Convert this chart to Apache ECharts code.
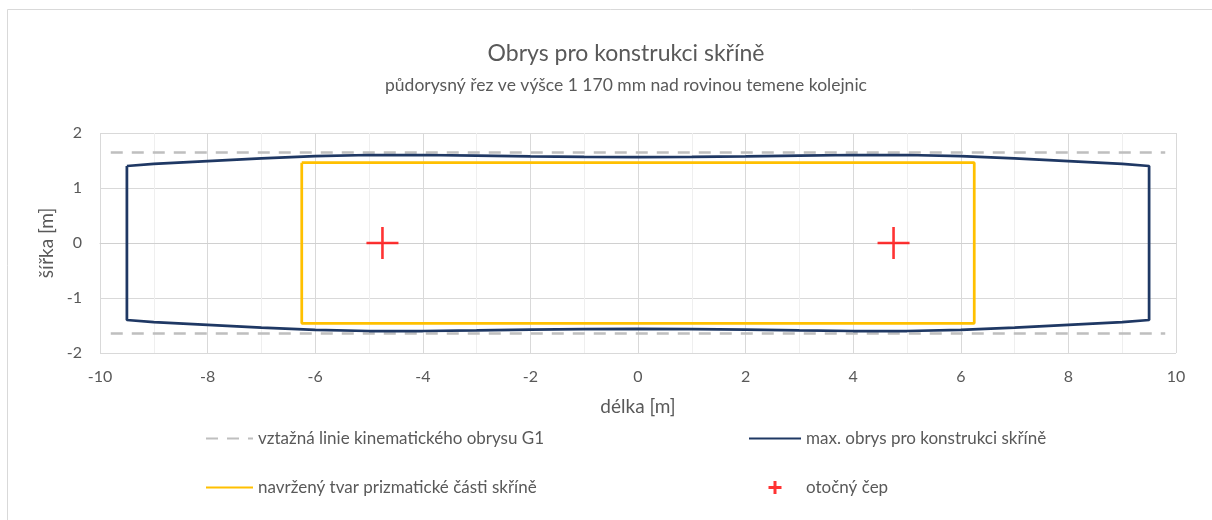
<!DOCTYPE html>
<html>
<head>
<meta charset="utf-8">
<script src="https://cdn.jsdelivr.net/npm/echarts@6/dist/echarts.min.js"></script>
<style>html,body{margin:0;padding:0;background:#fff}#c{width:1212px;height:520px}</style>
</head>
<body>
<div id="c"></div>
<script>
// ---- data ----
const titleText = 'Obrys pro konstrukci skříně';
const subtitleText = 'půdorysný řez ve výšce 1 170 mm nad rovinou temene kolejnic';
const xAxisName = 'délka [m]';
const yAxisName = 'šířka [m]';
const seriesNames = [
  'vztažná linie kinematického obrysu G1',
  'max. obrys pro konstrukci skříně',
  'navržený tvar prizmatické části skříně',
  'otočný čep'
];
// G1 reference line (half-width) and its length
const g1X = [-9.8, 9.8];
const g1HalfWidth = [1.645, 1.645];
// max outline: top edge (symmetric bottom edge)
const outlineX =   [-9.5, -9,   -8,   -7,   -6,   -5,   -4,   -3,   -2,    -1,    0,    1,     2,     3,    4,    5,    6,    7,    8,    9,    9.5];
const outlineTop = [1.40, 1.44, 1.49, 1.54, 1.58, 1.60, 1.60, 1.59, 1.575, 1.565, 1.56, 1.565, 1.575, 1.59, 1.60, 1.60, 1.58, 1.54, 1.49, 1.44, 1.40];
// designed prismatic part (rectangle)
const rectX = [-6.25, 6.25];
const rectHalfWidth = [1.46, 1.46];
// bogie pivots
const pivotX = [-4.75, 4.75];
const pivotY = [0, 0];

// ---- build series data ----
const g1Top = g1X.map((x, i) => [x, g1HalfWidth[i]]);
const g1Bottom = g1X.map((x, i) => [x, -g1HalfWidth[i]]);
const outline = [];
outlineX.forEach((x, i) => outline.push([x, outlineTop[i]]));
for (let i = outlineX.length - 1; i >= 0; i--) outline.push([outlineX[i], -outlineTop[i]]);
outline.push(outline[0]);
const rect = [
  [rectX[0], rectHalfWidth[0]], [rectX[1], rectHalfWidth[1]],
  [rectX[1], -rectHalfWidth[1]], [rectX[0], -rectHalfWidth[0]],
  [rectX[0], rectHalfWidth[0]]
];
const pivots = pivotX.map((x, i) => [x, pivotY[i]]);

const FONT = 'Lato';
const TXT = '#595959';
const plusPath = 'path://M0,14.7L32,14.7L32,17.3L0,17.3ZM14.7,0L17.3,0L17.3,32L14.7,32Z';
// legend plus centred in a 52x13 box (degenerate zero-area bits at x=0 and x=52 keep the box)
const plusLegend = 'path://M0,6L0,7L0,6ZM52,6L52,7L52,6ZM19.5,5L32.5,5L32.5,8L19.5,8ZM24.5,0L27.5,0L27.5,13L24.5,13Z';

const chart = echarts.init(document.getElementById('c'), null, {renderer: 'canvas'});
const legendBase = {
  orient: 'horizontal', itemHeight: 12, padding: 0,
  textStyle: {color: TXT, fontFamily: FONT, fontSize: 17},
  selectedMode: false
};
const hideSym = {opacity: 0};
chart.setOption({
  animation: false,
  backgroundColor: '#fff',
  textStyle: {fontFamily: FONT},
  graphic: [{
    type: 'rect', silent: true,
    shape: {x: 7.5, y: 9.5, width: 1400, height: 700},
    style: {fill: 'none', stroke: '#d9d9d9', lineWidth: 1}
  }],
  title: [
    {text: titleText, left: 626, top: 42, textAlign: 'center', padding: 0,
     textStyle: {color: TXT, fontFamily: FONT, fontSize: 23, fontWeight: 'normal'}},
    {text: subtitleText, left: 626, top: 76, textAlign: 'center', padding: 0,
     textStyle: {color: TXT, fontFamily: FONT, fontSize: 17.5, fontWeight: 'normal'}}
  ],
  legend: [
    Object.assign({}, legendBase, {left: 205, top: 430, itemWidth: 47, itemStyle: hideSym, data: [seriesNames[0]]}),
    Object.assign({}, legendBase, {left: 748, top: 430, itemWidth: 52, itemStyle: hideSym, data: [seriesNames[1]]}),
    Object.assign({}, legendBase, {left: 205, top: 479, itemWidth: 47, itemStyle: hideSym, data: [seriesNames[2]]}),
    Object.assign({}, legendBase, {left: 749, top: 479, itemWidth: 52, itemHeight: 13,
      data: [{name: seriesNames[3], icon: plusLegend}]})
  ],
  grid: {left: 100, right: 36, top: 133, bottom: 167, containLabel: false},
  xAxis: {
    type: 'value', min: -10, max: 10, interval: 2,
    name: xAxisName, nameLocation: 'middle', nameGap: 44,
    nameTextStyle: {color: TXT, fontFamily: FONT, fontSize: 19},
    axisLine: {show: true, lineStyle: {color: '#d0d0d0', width: 1}},
    axisTick: {show: false},
    axisLabel: {color: TXT, fontFamily: FONT, fontSize: 16, margin: 16},
    splitLine: {show: true, lineStyle: {color: '#d9d9d9', width: 1}},
    minorTick: {show: false, splitNumber: 2},
    minorSplitLine: {show: true, lineStyle: {color: '#efefef', width: 1}}
  },
  yAxis: {
    type: 'value', min: -2, max: 2, interval: 1,
    name: yAxisName, nameLocation: 'middle', nameGap: 38, nameRotate: 90,
    nameTextStyle: {color: TXT, fontFamily: FONT, fontSize: 19},
    axisLine: {show: false},
    axisTick: {show: false},
    axisLabel: {color: TXT, fontFamily: FONT, fontSize: 16, margin: 18},
    splitLine: {show: true, lineStyle: {color: '#d9d9d9', width: 1}}
  },
  series: [
    {name: seriesNames[0], type: 'line', data: g1Top, symbol: 'none', z: 2,
     itemStyle: {color: '#bfbfbf'}, lineStyle: {color: '#bfbfbf', width: 2.5, type: [12, 9]}},
    {name: seriesNames[0], type: 'line', data: g1Bottom, symbol: 'none', z: 2,
     itemStyle: {color: '#bfbfbf'}, lineStyle: {color: '#bfbfbf', width: 2.5, type: [12, 9]}},
    {name: seriesNames[1], type: 'line', data: outline, symbol: 'none', z: 3,
     itemStyle: {color: '#1f3864'}, lineStyle: {color: '#1f3864', width: 2.75}},
    {name: seriesNames[2], type: 'line', data: rect, symbol: 'none', z: 4,
     itemStyle: {color: '#ffc000'}, lineStyle: {color: '#ffc000', width: 2.75}},
    {name: seriesNames[3], type: 'scatter', data: pivots, symbol: plusPath, symbolSize: 32, z: 5,
     itemStyle: {color: '#ff0000'}}
  ]
});
</script>
</body>
</html>
